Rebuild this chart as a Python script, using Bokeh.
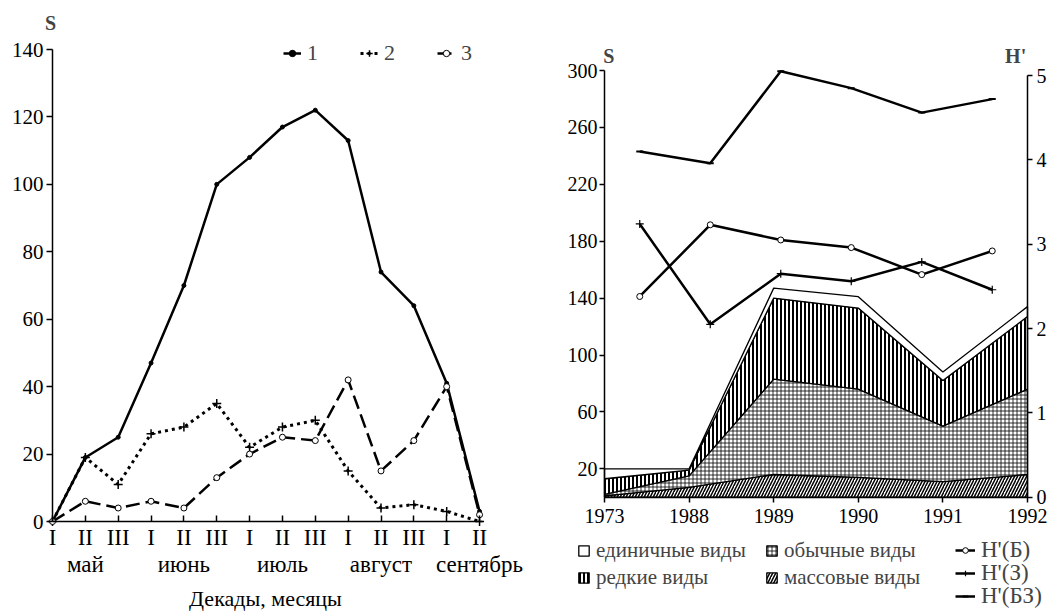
import pandas as pd
from bokeh.plotting import figure
from bokeh.layouts import row
from bokeh.models import (Range1d, LinearAxis, FixedTicker, Label, Legend,
                          LegendItem, ColumnDataSource)
from bokeh.embed import file_html
from bokeh.resources import INLINE

FONT = "Liberation Serif"

# ---------------- left chart data ----------------
decades = ["I", "II", "III", "I", "II", "III", "I", "II", "III",
           "I", "II", "III", "I", "II"]
months = ["май", "июнь", "июль", "август", "сентябрь"]
month_ticks = [1, 4, 7, 10, 13]
series1 = [0, 19, 25, 47, 70, 100, 108, 117, 122, 113, 74, 64, 41, 3]
series2 = [0, 19, 11, 26, 28, 35, 22, 28, 30, 15, 4, 5, 3, 0]
series3 = [0, 6, 4, 6, 4, 13, 20, 25, 24, 42, 15, 24, 40, 2]
left_y_ticks = [0, 20, 40, 60, 80, 100, 120, 140]

# ---------------- right chart data ----------------
years = ["1973", "1988", "1989", "1990", "1991", "1992"]
massive = [1, 7, 16, 14, 11, 16]
common = [1, 8, 67, 62, 39, 60]
rare = [11, 4, 57, 57, 32, 51]
single = [7, 1, 7, 8, 6, 7]
h_b = [2.38, 3.23, 3.05, 2.96, 2.64, 2.92]
h_z = [3.24, 2.05, 2.65, 2.56, 2.79, 2.46]
h_bz = [4.10, 3.96, 5.05, 4.85, 4.56, 4.72]
s_ticks = [20, 60, 100, 140, 180, 220, 260, 300]
h_ticks = [0, 1, 2, 3, 4, 5]
h_labels = ["Н'(Б)", "Н'(З)", "Н'(БЗ)"]

# ---------------- layout constants (pixels) ----------------
H = 612
W1, W2 = 530, 532
L_X0, L_DX, L_Y0, L_DY = 52, 32.85, 521, 472 / 140      # left chart mapping
R_X0, R_DX, R_Y0, R_SY, R_HY = 74, 84.6, 496.75, 1.4225, 84.35  # right chart mapping


def style_axis(ax, fs, tick_in=0, tick_out=5, standoff=3):
    ax.axis_line_width = 1.5
    ax.axis_line_color = "black"
    ax.major_tick_line_width = 1.5
    ax.major_tick_line_color = "black"
    ax.major_tick_in = tick_in
    ax.major_tick_out = tick_out
    ax.minor_tick_line_color = None
    ax.major_label_standoff = standoff
    ax.major_label_text_font = FONT
    ax.major_label_text_font_size = fs
    ax.major_label_text_color = "black"
    ax.axis_label_text_font = FONT
    ax.axis_label_text_font_size = fs
    ax.axis_label_text_font_style = "normal"
    ax.axis_label_text_color = "black"


def base_fig(width, xr, yr):
    p = figure(width=width, height=H, x_range=xr, y_range=yr,
               output_backend="svg", toolbar_location=None,
               x_axis_location=None, y_axis_location=None,
               min_border=0, min_border_left=0, min_border_right=0,
               min_border_top=0, min_border_bottom=0)
    p.outline_line_color = None
    p.grid.visible = False
    p.background_fill_color = "white"
    p.border_fill_color = "white"
    return p


# ================= LEFT FIGURE =================
xi = list(range(len(decades)))
left_src = ColumnDataSource(dict(x=xi, s1=series1, s2=series2, s3=series3))

p1 = base_fig(W1, Range1d(-L_X0 / L_DX, (W1 - L_X0) / L_DX),
              Range1d(-(H - L_Y0) / L_DY, L_Y0 / L_DY))

yax1 = LinearAxis(fixed_location=0, bounds=(0, 140), ticker=FixedTicker(ticks=left_y_ticks))
style_axis(yax1, "21px", tick_in=0, tick_out=6, standoff=3)
p1.add_layout(yax1, "left")

xax1 = LinearAxis(fixed_location=0, bounds=(0, 13.1), ticker=FixedTicker(ticks=xi),
                  major_label_overrides={i: d for i, d in enumerate(decades)})
style_axis(xax1, "23px", tick_in=6, tick_out=0, standoff=3)
p1.add_layout(xax1, "below")

month_axis = LinearAxis(fixed_location=0, ticker=FixedTicker(ticks=month_ticks),
                        major_label_overrides={m: n for m, n in zip(month_ticks, months)},
                        axis_label="Декады, месяцы")
style_axis(month_axis, "23px", tick_in=0, tick_out=0, standoff=30)
month_axis.axis_line_color = None
month_axis.major_tick_line_color = None
month_axis.axis_label_standoff = 6
month_axis.axis_label_text_font_size = "22px"
p1.add_layout(month_axis, "below")

l1 = p1.line("x", "s1", source=left_src, line_color="black", line_width=2.5)
m1 = p1.scatter("x", "s1", source=left_src, marker="circle", size=4,
                fill_color="black", line_color="black")
l2 = p1.line("x", "s2", source=left_src, line_color="black", line_width=3, line_dash="3 4")
m2 = p1.scatter("x", "s2", source=left_src, marker="cross", size=9,
                line_color="black", line_width=1.5)
l3 = p1.line("x", "s3", source=left_src, line_color="black", line_width=2.5, line_dash="14 6")
m3 = p1.scatter("x", "s3", source=left_src, marker="circle", size=6,
                fill_color="white", line_color="black", line_width=1)

leg1 = Legend(items=[LegendItem(label="1", renderers=[l1, m1]),
                     LegendItem(label="2", renderers=[l2, m2]),
                     LegendItem(label="3", renderers=[l3, m3])],
              location=(283, H - 66), orientation="horizontal",
              glyph_width=18, glyph_height=16, label_standoff=6, spacing=33,
              padding=0, margin=0, border_line_color=None, background_fill_alpha=0,
              label_text_font=FONT, label_text_font_size="22px", label_height=20)
p1.add_layout(leg1)

p1.add_layout(Label(x=-0.06, y=148, text="S", text_font=FONT, text_font_size="20px",
                    text_font_style="bold", text_align="center", text_baseline="middle"))

# ================= RIGHT FIGURE =================
yx = list(range(len(years)))
df = pd.DataFrame(dict(x=yx, massive=massive, common=common, rare=rare, single=single))
layers = ["massive", "common", "rare", "single"]
cum = df[layers].cumsum(axis=1)

p2 = base_fig(W2, Range1d(-R_X0 / R_DX, (W2 - R_X0) / R_DX),
              Range1d(-(H - R_Y0) / R_SY, R_Y0 / R_SY))
p2.extra_y_ranges = {"H": Range1d(-(H - R_Y0) / R_HY, R_Y0 / R_HY)}

yax2 = LinearAxis(fixed_location=0, bounds=(0, 300), ticker=FixedTicker(ticks=s_ticks))
style_axis(yax2, "20px", tick_in=0, tick_out=5, standoff=2)
p2.add_layout(yax2, "left")

xax2 = LinearAxis(fixed_location=0, bounds=(0, 5), ticker=FixedTicker(ticks=yx),
                  major_label_overrides={i: y for i, y in enumerate(years)})
style_axis(xax2, "20px", tick_in=0, tick_out=5, standoff=7)
p2.add_layout(xax2, "below")

h_axis = LinearAxis(y_range_name="H", fixed_location=5, bounds=(0, 5),
                    ticker=FixedTicker(ticks=h_ticks))
style_axis(h_axis, "20px", tick_in=0, tick_out=5, standoff=4)
p2.add_layout(h_axis, "right")

layer_style = {
    "massive": dict(fill_color="white", hatch_pattern="/", hatch_scale=6, hatch_weight=1.5),
    "common": dict(fill_color="white", hatch_pattern="+", hatch_scale=4, hatch_weight=0.8),
    "rare": dict(fill_color="white", hatch_pattern="|", hatch_scale=4, hatch_weight=2),
    "single": dict(fill_color="white"),
}
patch_r = {}
xs = list(df["x"])
prev = [0] * len(xs)
for name in layers:
    top = list(cum[name])
    r = p2.patch(xs + xs[::-1], top + prev[::-1], line_color="black", line_width=1.3,
                 hatch_color="black", **layer_style[name])
    patch_r[name] = r
    prev = top

hx = [(i + 0.5) * 5 / len(years) for i in yx]
hsrc = ColumnDataSource(dict(x=hx, b=h_b, z=h_z, bz=h_bz))
lb = p2.line("x", "b", source=hsrc, y_range_name="H", line_color="black", line_width=2.5)
mb = p2.scatter("x", "b", source=hsrc, y_range_name="H", marker="circle", size=6,
                fill_color="white", line_color="black", line_width=1)
lz = p2.line("x", "z", source=hsrc, y_range_name="H", line_color="black", line_width=2.5)
mz = p2.scatter("x", "z", source=hsrc, y_range_name="H", marker="cross", size=8,
                line_color="black", line_width=1.2)
lbz = p2.line("x", "bz", source=hsrc, y_range_name="H", line_color="black", line_width=2.5)
mbz = p2.scatter("x", "bz", source=hsrc, y_range_name="H", marker="dash", size=7,
                 line_color="black", line_width=2)

common_leg = dict(padding=0, margin=0, border_line_color=None, background_fill_alpha=0,
                  label_text_font=FONT, label_text_font_size="21px",
                  glyph_width=13, glyph_height=13, label_standoff=6,
                  label_height=22, spacing=2)
legA = Legend(items=[LegendItem(label="единичные виды", renderers=[patch_r["single"]]),
                     LegendItem(label="редкие виды", renderers=[patch_r["rare"]])],
              location=(47, H - 590), **common_leg)
legB = Legend(items=[LegendItem(label="обычные виды", renderers=[patch_r["common"]]),
                     LegendItem(label="массовые виды", renderers=[patch_r["massive"]])],
              location=(235, H - 590), **common_leg)
for lg in (legA, legB):
    p2.add_layout(lg)

# one legend per H' row so the rows sit as close as in the original
h_rows = [(h_labels[0], [lb, mb]), (h_labels[1], [lz, mz]), (h_labels[2], [lbz, mbz])]
h_row_centers = [550, 573, 596]
for (lab, rends), yc in zip(h_rows, h_row_centers):
    lg = Legend(items=[LegendItem(label=lab, renderers=rends)],
                location=(425, H - yc - 13), padding=0, margin=0, border_line_color=None,
                background_fill_alpha=0, label_text_font=FONT, label_text_font_size="23px",
                glyph_width=20, glyph_height=14, label_standoff=6, label_height=18)
    p2.add_layout(lg)

p2.add_layout(Label(x=0.05, y=310.5, text="S", text_font=FONT, text_font_size="20px",
                    text_font_style="bold", text_align="center", text_baseline="middle"))
p2.add_layout(Label(x=4.86, y=310.5, text="H'", text_font=FONT, text_font_size="20px",
                    text_font_style="bold", text_align="center", text_baseline="middle"))

layout = row(p1, p2)
open("out.html", "w").write(file_html(layout, INLINE))
